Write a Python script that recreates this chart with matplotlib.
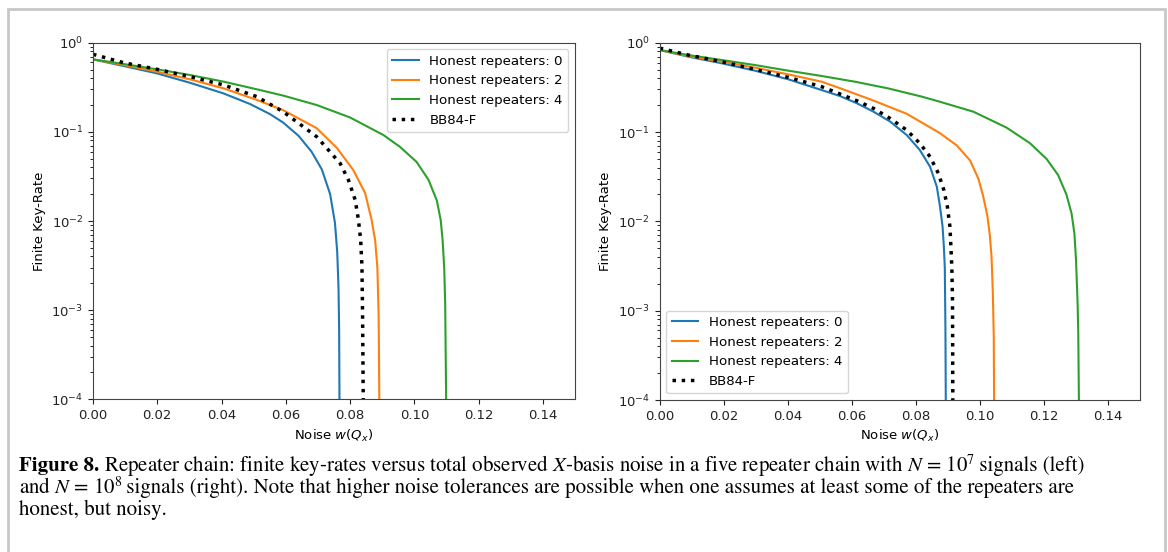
import matplotlib
matplotlib.use("Agg")
import matplotlib.pyplot as plt
from matplotlib.patches import Rectangle

# ---------------- data ----------------
# Left panel: N = 1e7 signals
left_h0_x = [0.0, 0.0095, 0.0199, 0.0302, 0.0406, 0.0489, 0.0551, 0.0592, 0.0640, 0.0680, 0.0712, 0.0738, 0.0753, 0.0760, 0.0764, 0.0766, 0.0767, 0.07672]
left_h0_y = [0.650, 0.548, 0.453, 0.355, 0.270, 0.205, 0.158, 0.127, 0.090, 0.060, 0.038, 0.020, 0.0095, 0.0045, 0.0018, 0.0006, 1.0e-4, 1e-5]

left_h2_x = [0.0, 0.0095, 0.0199, 0.0302, 0.0406, 0.0510, 0.0592, 0.0696, 0.0759, 0.0810, 0.0847, 0.0867, 0.0878, 0.0885, 0.0889, 0.0891, 0.08912]
left_h2_y = [0.650, 0.562, 0.473, 0.388, 0.308, 0.228, 0.175, 0.110, 0.066, 0.0373, 0.0205, 0.0103, 0.0061, 0.0030, 0.00085, 1.0e-4, 1e-5]

left_h4_x = [0.0, 0.0095, 0.0199, 0.0302, 0.0406, 0.0510, 0.0592, 0.0696, 0.0800, 0.0904, 0.0955, 0.1007, 0.1044, 0.1070, 0.1082, 0.1088, 0.1093, 0.1096, 0.1099, 0.10992]
left_h4_y = [0.650, 0.577, 0.503, 0.434, 0.366, 0.300, 0.255, 0.200, 0.145, 0.092, 0.068, 0.046, 0.029, 0.017, 0.0103, 0.0061, 0.0030, 0.0012, 1.0e-4, 1e-5]

left_bb_x = [0.0, 0.0095, 0.0199, 0.0302, 0.0406, 0.0510, 0.0592, 0.0696, 0.0769, 0.0795, 0.0816, 0.0826, 0.0833, 0.0837, 0.0839, 0.0841, 0.08412]
left_bb_y = [0.741, 0.597, 0.503, 0.416, 0.336, 0.248, 0.168, 0.0883, 0.0444, 0.0288, 0.0172, 0.0103, 0.0061, 0.0031, 0.00085, 1.0e-4, 1e-5]

# Right panel: N = 1e8 signals
right_h0_x = [0.0, 0.0089, 0.0194, 0.0298, 0.0402, 0.0506, 0.0563, 0.0616, 0.0668, 0.0720, 0.0772, 0.0813, 0.0845, 0.0866, 0.0876, 0.0884, 0.0888, 0.0891, 0.0893, 0.0894, 0.08942]
right_h0_y = [0.828, 0.698, 0.588, 0.486, 0.389, 0.295, 0.253, 0.210, 0.169, 0.131, 0.0925, 0.0628, 0.0408, 0.0244, 0.0146, 0.0087, 0.0052, 0.0030, 0.00056, 1.0e-4, 1e-5]

right_h2_x = [0.0, 0.0089, 0.0194, 0.0298, 0.0402, 0.0506, 0.0563, 0.0668, 0.0772, 0.0876, 0.0928, 0.0970, 0.0996, 0.1011, 0.1024, 0.1032, 0.1037, 0.1041, 0.1044, 0.1045, 0.10452]
right_h2_y = [0.828, 0.710, 0.613, 0.525, 0.442, 0.366, 0.310, 0.225, 0.160, 0.097, 0.071, 0.048, 0.030, 0.019, 0.0115, 0.0068, 0.0040, 0.0016, 0.0005, 1.0e-4, 1e-5]

right_h4_x = [0.0, 0.0089, 0.0194, 0.0298, 0.0402, 0.0506, 0.0610, 0.0714, 0.0819, 0.0876, 0.0980, 0.1084, 0.1157, 0.1209, 0.1245, 0.1271, 0.1287, 0.1296, 0.1301, 0.1306, 0.1308, 0.1310, 0.13102]
right_h4_y = [0.828, 0.728, 0.640, 0.562, 0.486, 0.424, 0.366, 0.308, 0.249, 0.218, 0.169, 0.112, 0.075, 0.050, 0.033, 0.020, 0.0123, 0.0073, 0.0037, 0.0012, 0.00056, 1.0e-4, 1e-5]

right_bb_x = [0.0, 0.0089, 0.0194, 0.0298, 0.0402, 0.0506, 0.0563, 0.0616, 0.0668, 0.0720, 0.0772, 0.0813, 0.0845, 0.0871, 0.0888, 0.0899, 0.0907, 0.0910, 0.0913, 0.0915, 0.0916, 0.09162]
right_bb_y = [0.870, 0.728, 0.613, 0.503, 0.409, 0.322, 0.267, 0.224, 0.184, 0.142, 0.105, 0.0746, 0.0528, 0.0344, 0.0224, 0.0146, 0.0087, 0.0052, 0.0030, 0.0013, 1.0e-4, 1e-5]

labels = ["Honest repeaters: 0", "Honest repeaters: 2", "Honest repeaters: 4", "BB84-F"]
xticks = [0.00, 0.02, 0.04, 0.06, 0.08, 0.10, 0.12, 0.14]

# caption pieces: (text, is_superscript)
caption_bold = "Figure 8."
caption_line1 = [(" Repeater chain: finite key-rates versus total observed $X$-basis noise in a five repeater chain with $N$ = 10", False),
                 ("7", True), (" signals (left)", False)]
caption_line2 = [("and $N$ = 10", False), ("8", True),
                 (" signals (right). Note that higher noise tolerances are possible when one assumes at least some of the repeaters are", False)]
caption_line3 = [("honest, but noisy.", False)]

# ---------------- figure ----------------
W, H = 1168, 552
fig = plt.figure(figsize=(W / 100, H / 100), dpi=100)

def frac_box(x0, x1, ytop, ybot):
    return [x0 / W, 1 - ybot / H, (x1 - x0) / W, (ybot - ytop) / H]

# outer grey border
fig.patches.append(Rectangle((8 / W, -0.05), (1157 / W), 1 - 9 / H + 0.05,
                             transform=fig.transFigure, fill=False,
                             edgecolor="#c8c8c8", linewidth=2))

axL = fig.add_axes(frac_box(93, 575, 42.7, 399.3))
axR = fig.add_axes(frac_box(659.7, 1139.7, 42.7, 400))

panels = [
    (axL, [(left_h0_x, left_h0_y), (left_h2_x, left_h2_y), (left_h4_x, left_h4_y), (left_bb_x, left_bb_y)], "upper right"),
    (axR, [(right_h0_x, right_h0_y), (right_h2_x, right_h2_y), (right_h4_x, right_h4_y), (right_bb_x, right_bb_y)], "lower left"),
]

colors = ["#1f77b4", "#ff7f0e", "#2ca02c", "black"]
for ax, series, loc in panels:
    for i, (xs, ys) in enumerate(series):
        if i < 3:
            ax.plot(xs, ys, color=colors[i], lw=1.5, label=labels[i])
        else:
            ax.plot(xs, ys, color="black", lw=2.5, linestyle=":", label=labels[i])
    ax.set_yscale("log")
    ax.set_ylim(1e-4, 1e0)
    ax.set_xlim(0, 0.15)
    ax.set_xticks(xticks)
    ax.set_xticklabels([f"{t:.2f}" for t in xticks])
    ax.tick_params(labelsize=9.5, colors="#222222")
    ax.set_xlabel("Noise $w(Q_x)$", fontsize=9.5)
    ax.set_ylabel("Finite Key-Rate", fontsize=9.5)
    for s in ax.spines.values():
        s.set_color("#444444")
    ax.legend(loc=loc, fontsize=9.6, frameon=True)

# caption
cap_fs = 15.0
sup_fs = 10.0
sup_raise = 6.5
cap_family = ["STIXGeneral", "Liberation Serif", "DejaVu Serif"]
r = fig.canvas.get_renderer()

def put(x, base, s, **k):
    t = fig.text(x / W, 1 - base / H, s, family=cap_family, ha="left", va="baseline", **k)
    return t.get_window_extent(r).x1

def put_line(x, base, pieces):
    for s, sup in pieces:
        if sup:
            x = put(x - 1.5, base - sup_raise, s, fontsize=sup_fs)
        else:
            x = put(x, base, s, fontsize=cap_fs, math_fontfamily="stix")
    return x

x0 = put(19, 471, caption_bold, fontsize=cap_fs, fontweight="bold")
put_line(x0, 471, caption_line1)
put_line(19, 493, caption_line2)
put_line(19, 515, caption_line3)

fig.savefig("out.png", dpi=100)
